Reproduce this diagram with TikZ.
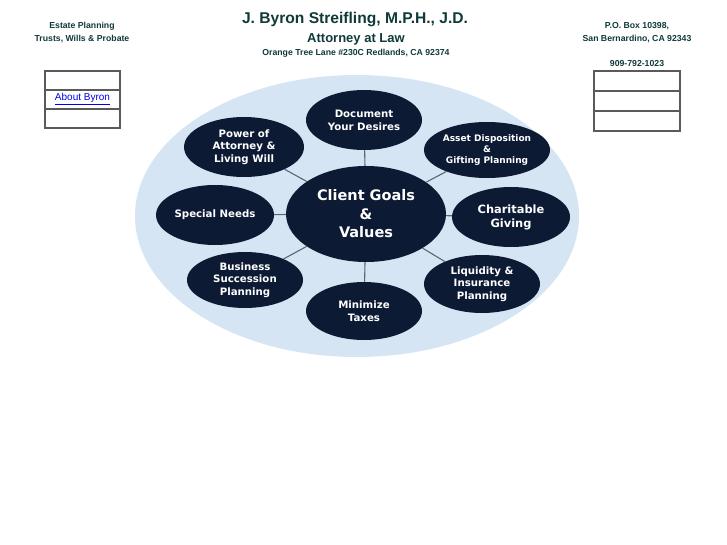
\documentclass[tikz,border=0pt]{standalone}
\usepackage{fontspec}
\setmainfont{Liberation Sans}
\newfontfamily\goalfont{DejaVu Sans}
\usetikzlibrary{shapes.geometric}
\definecolor{headteal}{RGB}{16,58,58}
\definecolor{goalnavy}{RGB}{12,26,52}
\definecolor{cloudblue}{RGB}{214,229,244}
\definecolor{spokegray}{RGB}{92,102,114}
\definecolor{linkblue}{RGB}{0,0,238}
\definecolor{framegray}{RGB}{90,90,90}
\tikzset{
    headtext/.style={text=headteal, anchor=base, inner sep=0pt,
        font=\bfseries\fontsize{8.7}{10}\selectfont},
    goal/.style={ellipse, fill=goalnavy, text=white, align=center, inner sep=0pt,
        font=\goalfont\bfseries\fontsize{10.2}{13}\selectfont,
        minimum width=116pt, minimum height=60pt},
    spoke/.style={draw=spokegray, line width=1.1pt},
    framecell/.style={draw=framegray, line width=1.5pt},
}

\begin{document}
\begin{tikzpicture}[x=1pt, y=-1pt]
\useasboundingbox (0,0) rectangle (727,545);
% header
\node[headtext] (estate) at (82,29) {Estate Planning};
\node[headtext] (trusts) at (82,42) {Trusts, Wills \& Probate};
\node[headtext, font=\bfseries\fontsize{15.6}{18}\selectfont] (name) at (355,24) {J. Byron Streifling, M.P.H., J.D.};
\node[headtext, font=\bfseries\fontsize{13}{15}\selectfont] (title) at (356,43) {Attorney at Law};
\node[headtext] (street) at (356,56) {Orange Tree Lane \#230C Redlands, CA 92374};
\node[headtext] (pobox) at (637,29) {P.O. Box 10398,};
\node[headtext] (city) at (637,42) {San Bernardino, CA 92343};
\node[headtext] (phone) at (637,67) {909-792-1023};
% side frames
\begin{scope}[shift={(45,71)}]
\draw[framecell] (0,0) rectangle (75,57);
\draw[framecell] (0,19) -- (75,19);
\draw[framecell] (0,38) -- (75,38);
\end{scope}
\node[text=linkblue, font=\fontsize{10}{12}\selectfont] (byron) at (82.5,99) {\underline{About Byron}};
\begin{scope}[shift={(594,71)}]
\draw[framecell] (0,0) rectangle (86,60);
\draw[framecell] (0,20) -- (86,20);
\draw[framecell] (0,40) -- (86,40);
\end{scope}
% diagram
\fill[cloudblue] (357,216) ellipse [x radius=222, y radius=141];
\node[goal, minimum width=160pt, minimum height=96pt, font=\goalfont\bfseries\fontsize{14.5}{18.5}\selectfont] (goals) at (366,214) {Client Goals\\\&\\Values};
\node[goal] (desires) at (364,120) {Document\\Your Desires};
\node[goal, minimum width=120pt, font=\goalfont\bfseries\fontsize{10.2}{12.5}\selectfont] (poa) at (244,147) {Power of\\Attorney \&\\Living Will};
\node[goal, minimum width=126pt, minimum height=56pt, font=\goalfont\bfseries\fontsize{9}{11}\selectfont] (asset) at (487,150) {Asset Disposition\\\&\\Gifting Planning};
\node[goal, minimum width=118pt] (special) at (215,215) {Special Needs};
\node[goal, minimum width=118pt, font=\goalfont\bfseries\fontsize{11.4}{14}\selectfont] (charity) at (511,217) {Charitable\\Giving};
\node[goal, minimum height=56pt, font=\goalfont\bfseries\fontsize{10.2}{12.5}\selectfont] (business) at (245,280) {Business\\Succession\\Planning};
\node[goal, minimum height=58pt] (taxes) at (364,311) {Minimize\\Taxes};
\node[goal, minimum height=58pt, font=\goalfont\bfseries\fontsize{10.2}{12.5}\selectfont] (liquidity) at (482,284) {Liquidity \&\\Insurance\\Planning};
\foreach \n in {desires, poa, asset, special, charity, business, taxes, liquidity} {
    \draw[spoke] (goals) -- (\n);
}
\end{tikzpicture}
\end{document}
